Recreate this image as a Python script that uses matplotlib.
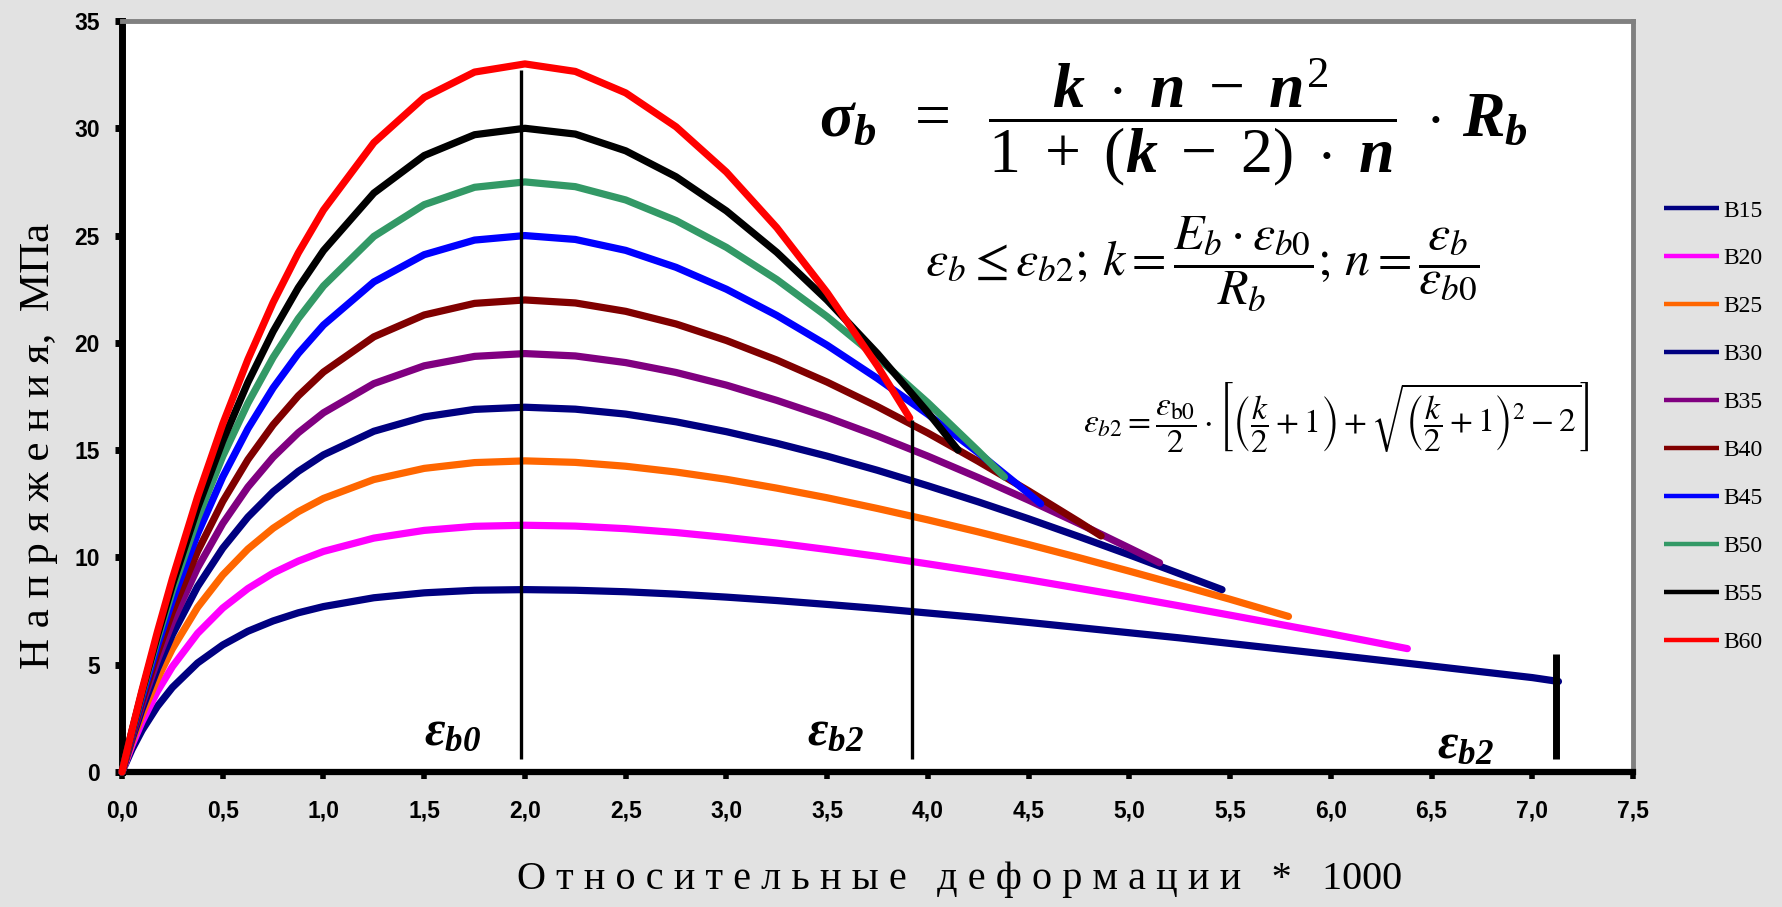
import matplotlib
matplotlib.use("Agg")
import matplotlib.pyplot as plt

# ---------------- data ----------------
STRAIN = [0, 0.05, 0.1, 0.175, 0.25, 0.375, 0.5, 0.625, 0.75, 0.875, 1.0,
          1.25, 1.5, 1.75, 2.0, 2.25, 2.5, 2.75, 3.0, 3.25, 3.5, 3.75, 4.0,
          4.25, 4.5, 4.75, 5.0, 5.25, 5.5, 6.0, 6.5, 7.0]

CLASSES = ["B15", "B20", "B25", "B30", "B35", "B40", "B45", "B50", "B55", "B60"]

B15 = [0, 1.06, 1.95, 3.05, 3.94, 5.08, 5.92, 6.56, 7.04, 7.42, 7.71,
       8.12, 8.35, 8.47, 8.50, 8.47, 8.40, 8.29, 8.15, 7.99, 7.81, 7.62, 7.41,
       7.20, 6.97, 6.73, 6.49, 6.25, 5.99, 5.47, 4.94, 4.40]
B20 = [0, 1.26, 2.35, 3.75, 4.91, 6.46, 7.64, 8.55, 9.27, 9.83, 10.28,
       10.90, 11.26, 11.45, 11.50, 11.46, 11.34, 11.16, 10.93, 10.67, 10.37, 10.05, 9.70,
       9.34, 8.96, 8.56, 8.16, 7.74, 7.31, 6.44]
B25 = [0, 1.42, 2.68, 4.33, 5.74, 7.67, 9.18, 10.39, 11.36, 12.13, 12.75,
       13.63, 14.15, 14.42, 14.50, 14.43, 14.25, 13.98, 13.64, 13.23, 12.78, 12.28, 11.75,
       11.19, 10.60, 9.99, 9.36, 8.71, 8.05]
B30 = [0, 1.54, 2.94, 4.79, 6.40, 8.64, 10.43, 11.88, 13.06, 14.01, 14.78,
       15.88, 16.55, 16.90, 17.00, 16.91, 16.68, 16.32, 15.86, 15.32, 14.72, 14.06, 13.34,
       12.59, 11.80, 10.97, 10.12, 9.24]
B35 = [0, 1.65, 3.16, 5.19, 6.98, 9.51, 11.58, 13.28, 14.67, 15.81, 16.74,
       18.10, 18.93, 19.37, 19.50, 19.39, 19.08, 18.62, 18.03, 17.32, 16.53, 15.66, 14.72,
       13.72, 12.67, 11.58, 10.44]
B40 = [0, 1.73, 3.33, 5.52, 7.47, 10.28, 12.61, 14.56, 16.18, 17.53, 18.64,
       20.28, 21.30, 21.84, 22.00, 21.86, 21.47, 20.88, 20.11, 19.20, 18.17, 17.03, 15.80,
       14.48, 13.10, 11.66]
B45 = [0, 1.81, 3.51, 5.86, 7.99, 11.10, 13.75, 16.00, 17.90, 19.50, 20.83,
       22.84, 24.11, 24.79, 25.00, 24.82, 24.31, 23.52, 22.50, 21.28, 19.89, 18.34, 16.67,
       14.88, 12.98]
B50 = [0, 1.89, 3.68, 6.16, 8.44, 11.81, 14.71, 17.19, 19.32, 21.13, 22.65,
       24.96, 26.44, 27.25, 27.50, 27.28, 26.66, 25.70, 24.45, 22.95, 21.22, 19.30, 17.21,
       14.96]
B55 = [0, 1.93, 3.76, 6.33, 8.72, 12.30, 15.43, 18.16, 20.53, 22.57, 24.30,
       26.98, 28.73, 29.70, 30.00, 29.73, 28.95, 27.74, 26.15, 24.22, 21.99, 19.50, 16.76]
B60 = [0, 1.96, 3.84, 6.51, 9.01, 12.82, 16.22, 19.23, 21.88, 24.19, 26.19,
       29.33, 31.44, 32.62, 33.00, 32.65, 31.65, 30.07, 27.96, 25.37, 22.34, 18.92]

# end points of each curve (eps_b2, stress)
END_X = [7.13, 6.38, 5.79, 5.46, 5.15, 4.86, 4.56, 4.38, 4.15, 3.91]
END_Y = [4.22, 5.75, 7.25, 8.50, 9.75, 11.00, 12.50, 13.75, 15.00, 16.50]

SERIES = [B15, B20, B25, B30, B35, B40, B45, B50, B55, B60]
COLORS = ["#000080", "#FF00FF", "#FF6600", "#000080", "#800080",
          "#800000", "#0000FF", "#339966", "#000000", "#FF0000"]

# vertical marker lines
MARK_X = [1.98, 3.92, 7.12]
MARK_TOP = [32.7, 16.4, 5.5]
MARK_BOTTOM = 0.6
MARK_W = [2.4, 2.4, 5.0]

X_TICKS = [0.0, 0.5, 1.0, 1.5, 2.0, 2.5, 3.0, 3.5, 4.0, 4.5, 5.0, 5.5, 6.0, 6.5, 7.0, 7.5]
X_TICKLABELS = ["0,0", "0,5", "1,0", "1,5", "2,0", "2,5", "3,0", "3,5", "4,0",
                "4,5", "5,0", "5,5", "6,0", "6,5", "7,0", "7,5"]
Y_TICKS = [0, 5, 10, 15, 20, 25, 30, 35]

YLABEL = "Н а п р я ж е н и я,  МПа"
XLABEL = "О т н о с и т е л ь н ы е   д е ф о р м а ц и и   *   1000"

# ---------------- style ----------------
plt.rcParams["mathtext.fontset"] = "stix"
plt.rcParams["mathtext.rm"] = "Liberation Serif"
plt.rcParams["mathtext.it"] = "Liberation Serif:italic:bold"
plt.rcParams["mathtext.bf"] = "Liberation Serif:italic:bold"

W, H = 1783, 907
fig = plt.figure(figsize=(W / 100, H / 100), dpi=100)
fig.patch.set_facecolor("#e2e2e2")

L, R, T, B = 122, 1633, 21, 772
ax = fig.add_axes([L / W, 1 - B / H, (R - L) / W, (B - T) / H])
ax.set_facecolor("white")
ax.set_xlim(0, 7.5)
ax.set_ylim(0, 35)

for name, ys, c, ex, ey in zip(CLASSES, SERIES, COLORS, END_X, END_Y):
    xs = STRAIN[:len(ys)] + [ex]
    yy = list(ys) + [ey]
    ax.plot(xs, yy, color=c, lw=5.2, solid_capstyle="round",
            solid_joinstyle="round", label=name, zorder=3, clip_on=False)

for mx, mt, mw in zip(MARK_X, MARK_TOP, MARK_W):
    ax.plot([mx, mx], [MARK_BOTTOM, mt], color="black", lw=mw,
            solid_capstyle="butt", zorder=5)

# spines
ax.spines["left"].set_linewidth(5)
ax.spines["bottom"].set_linewidth(4.5)
ax.spines["top"].set_linewidth(3.5)
ax.spines["right"].set_linewidth(3.5)
ax.spines["top"].set_color("#808080")
ax.spines["right"].set_color("#808080")

ax.set_xticks(X_TICKS)
ax.set_xticklabels(X_TICKLABELS)
ax.set_yticks(Y_TICKS)
ax.set_yticklabels([str(v) for v in Y_TICKS])
ax.tick_params(axis="x", direction="out", length=5, width=4, pad=15)
ax.tick_params(axis="y", direction="out", length=5, width=5, pad=11)
for lab in ax.get_xticklabels() + ax.get_yticklabels():
    lab.set_fontfamily("Liberation Sans")
    lab.set_fontweight("bold")
    lab.set_fontsize(16.5)

ax.set_ylabel(YLABEL, family="Liberation Serif", fontsize=31)
ax.yaxis.set_label_coords(-0.0424, 0.434)
ax.set_xlabel(XLABEL, family="Liberation Serif", fontsize=29)
ax.xaxis.set_label_coords(0.5546, -0.118)

# epsilon labels
EPS_LABELS = [(1.64, 1.9, r"$\varepsilon_{\mathbf{b0}}$"),
              (3.54, 1.9, r"$\varepsilon_{\mathbf{b2}}$"),
              (6.67, 1.3, r"$\varepsilon_{\mathbf{b2}}$")]
for x, y, s in EPS_LABELS:
    ax.text(x, y, s, fontsize=36, ha="center", va="center",
            math_fontfamily="custom", zorder=6)

# formulas
fig.text(1173 / W, 1 - 122 / H,
         r"$\sigma_b\;\; = \;\;\dfrac{k\;\cdot\; n\;-\;n^2}{1\;+\;(k\;-\;2)\;\cdot\; n}\;\cdot\, R_b$",
         fontsize=46, ha="center", va="center", math_fontfamily="custom")
fig.text(1202 / W, 1 - 264 / H,
         r"$\varepsilon_b \leq \varepsilon_{b2};\, k = \dfrac{E_b\cdot\varepsilon_{b0}}{R_b};\, n = \dfrac{\varepsilon_b}{\varepsilon_{b0}}$",
         fontsize=36, ha="center", va="center", math_fontfamily="stix")
fig.text(1336 / W, 1 - 416 / H,
         r"$\varepsilon_{b2} = \dfrac{\varepsilon_{\mathrm{b0}}}{2}\cdot\left[\left(\dfrac{k}{2}+1\right)+\sqrt{\left(\dfrac{k}{2}+1\right)^2-2}\right]$",
         fontsize=24, ha="center", va="center", math_fontfamily="stix")

# legend
leg = ax.legend(loc="upper left", bbox_to_anchor=(1664 / W, 1 - 200 / H),
                bbox_transform=fig.transFigure, frameon=False,
                prop={"family": "Liberation Serif", "size": 17},
                handlelength=2.35, handletextpad=0.15, labelspacing=1.12,
                borderpad=0, borderaxespad=0)
for ln in leg.get_lines():
    ln.set_linewidth(3.2)
    ln.set_solid_capstyle("butt")

fig.savefig("out.png", dpi=100, facecolor=fig.get_facecolor())
